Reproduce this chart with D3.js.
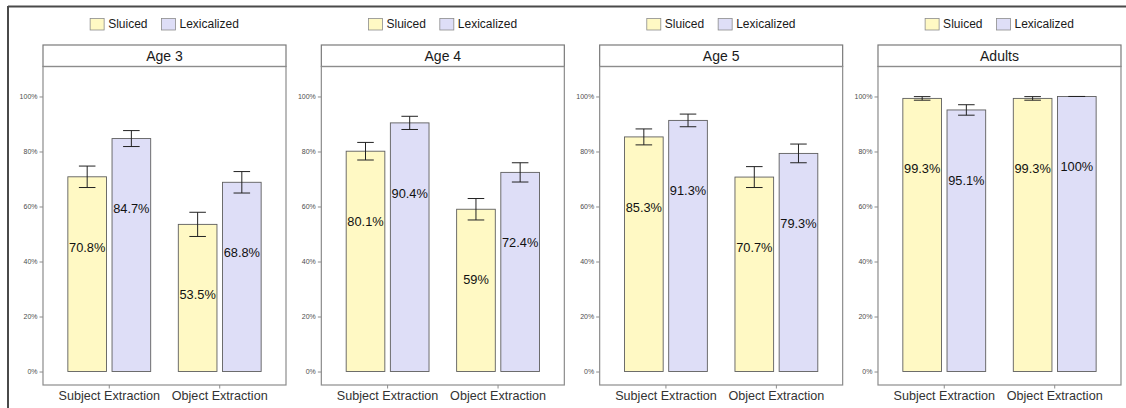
<!DOCTYPE html>
<html>
<head>
<meta charset="utf-8">
<script src="https://cdn.jsdelivr.net/npm/d3@7"></script>
<style>
  html, body { margin: 0; padding: 0; background: #fff; }
  svg { display: block; font-family: "Liberation Sans", Arial, Helvetica, sans-serif; }
</style>
</head>
<body>
<svg id="chart" width="1126" height="408"></svg>
<script>
// Facets, categories and conditions
const panels = ["Age 3", "Age 4", "Age 5", "Adults"];
const categories = ["Subject Extraction", "Object Extraction"];
const conditions = ["Sluiced", "Lexicalized"];

// Percent correct per facet: [Subject Extraction, Object Extraction]
const sluicedPct     = [[70.8, 53.5], [80.1, 59], [85.3, 70.7], [99.3, 99.3]];
const lexicalizedPct = [[84.7, 68.8], [90.4, 72.4], [91.3, 79.3], [95.1, 100]];

// Standard error (percentage points)
const sluicedErr     = [[3.9, 4.4], [3.2, 3.9], [2.9, 3.8], [0.65, 0.65]];
const lexicalizedErr = [[2.9, 3.9], [2.4, 3.5], [2.3, 3.4], [1.9, 0]];

const yTicks = [0, 0.2, 0.4, 0.6, 0.8, 1];
const fills = ["#fff9c4", "#dedef7"];

const svg = d3.select("#chart");

// Page frame (top and left rules)
svg.append("line").attr("x1", 8).attr("x2", 1126).attr("y1", 6.5).attr("y2", 6.5)
  .attr("stroke", "#4a4a4a").attr("stroke-width", 2);
svg.append("line").attr("x1", 8).attr("x2", 8).attr("y1", 6).attr("y2", 408)
  .attr("stroke", "#4a4a4a").attr("stroke-width", 2);

// Panel geometry
const panelX0 = 43, panelStep = 278.33, panelW = 243;
const stripTop = 45, stripBottom = 66.5, panelBottom = 385;

const x = d3.scaleBand().domain(categories).range([0, panelW]).paddingInner(0).paddingOuter(0.1);
const xc = d3.scaleBand().domain(conditions).range([0, x.bandwidth()]).paddingInner(0.125).paddingOuter(0.3125);
const y = d3.scaleLinear().domain([-0.049, 1.109]).range([panelBottom, stripBottom]);

const pctFmt = d3.format(".0%");

panels.forEach((name, pi) => {
  const g = svg.append("g").attr("transform", `translate(${panelX0 + pi * panelStep},0)`);

  // Legend above each facet
  const legend = g.append("g").attr("transform", `translate(${panelW / 2},24)`);
  const items = [];
  let cx = 0;
  const itemGap = 14;
  conditions.forEach((c, ci) => {
    const it = legend.append("g");
    it.append("rect").attr("x", 0).attr("y", -5.5).attr("width", 14).attr("height", 11.5)
      .attr("fill", fills[ci]).attr("stroke", "#8c8c8c").attr("stroke-width", 0.8);
    const t = it.append("text").attr("x", 18).attr("y", 0).attr("dy", "0.35em")
      .attr("font-size", 12).attr("fill", "#1a1a1a").text(c);
    const w = 18 + t.node().getComputedTextLength();
    items.push({ it, x: cx });
    cx += w + itemGap;
  });
  const totalW = cx - itemGap;
  items.forEach(d => d.it.attr("transform", `translate(${d.x - totalW / 2},0)`));

  // Strip
  g.append("rect").attr("x", 0).attr("y", stripTop).attr("width", panelW).attr("height", stripBottom - stripTop)
    .attr("fill", "#fff").attr("stroke", "#7a7a7a").attr("stroke-width", 1.2);
  g.append("text").attr("x", panelW / 2).attr("y", (stripTop + stripBottom) / 2).attr("dy", "0.35em")
    .attr("text-anchor", "middle").attr("font-size", 14).attr("fill", "#1a1a1a").text(name);

  // Y axis ticks
  const yAxis = d3.axisLeft(y).tickValues(yTicks).tickFormat(pctFmt).tickSize(3.5).tickPadding(2);
  const ya = g.append("g").call(yAxis);
  ya.select(".domain").remove();
  ya.selectAll(".tick line").attr("stroke", "#8c8c8c");
  ya.selectAll(".tick text").attr("font-size", 7).attr("fill", "#4d4d4d").attr("font-family", null);

  // X axis ticks
  const xAxis = d3.axisBottom(x).tickSize(3.5).tickPadding(3);
  const xa = g.append("g").attr("transform", `translate(0,${panelBottom})`).call(xAxis);
  xa.select(".domain").remove();
  xa.selectAll(".tick line").attr("stroke", "#8c8c8c");
  xa.selectAll(".tick text").attr("font-size", 12.6).attr("fill", "#333").attr("font-family", null);

  // Bars
  const rows = [];
  categories.forEach((cat, k) => {
    rows.push({ cat, cond: "Sluiced", ci: 0, v: sluicedPct[pi][k], e: sluicedErr[pi][k] });
    rows.push({ cat, cond: "Lexicalized", ci: 1, v: lexicalizedPct[pi][k], e: lexicalizedErr[pi][k] });
  });

  const bx = d => x(d.cat) + xc(d.cond);
  g.selectAll("rect.bar").data(rows).join("rect").attr("class", "bar")
    .attr("x", bx).attr("width", xc.bandwidth())
    .attr("y", d => y(d.v / 100)).attr("height", d => y(0) - y(d.v / 100))
    .attr("fill", d => fills[d.ci]).attr("stroke", "#5e5e5e").attr("stroke-width", 0.9);

  // Error bars
  const capW = x.bandwidth() * 0.15;
  const eb = g.selectAll("g.err").data(rows).join("g").attr("class", "err")
    .attr("transform", d => `translate(${bx(d) + xc.bandwidth() / 2},0)`);
  eb.append("line").attr("y1", d => y((d.v + d.e) / 100)).attr("y2", d => y((d.v - d.e) / 100))
    .attr("stroke", "#222").attr("stroke-width", 1);
  eb.append("line").attr("x1", -capW / 2).attr("x2", capW / 2)
    .attr("y1", d => y((d.v + d.e) / 100)).attr("y2", d => y((d.v + d.e) / 100))
    .attr("stroke", "#222").attr("stroke-width", 1);
  eb.append("line").attr("x1", -capW / 2).attr("x2", capW / 2)
    .attr("y1", d => y((d.v - d.e) / 100)).attr("y2", d => y((d.v - d.e) / 100))
    .attr("stroke", "#222").attr("stroke-width", 1);

  // Value labels
  g.selectAll("text.lbl").data(rows).join("text").attr("class", "lbl")
    .attr("x", d => bx(d) + xc.bandwidth() / 2)
    .attr("y", d => y(d.v / 100 - 0.256)).attr("dy", "0.35em")
    .attr("text-anchor", "middle").attr("font-size", 12.8).attr("fill", "#111")
    .text(d => `${d.v}%`);

  // Panel border
  g.append("rect").attr("x", 0).attr("y", stripBottom).attr("width", panelW).attr("height", panelBottom - stripBottom)
    .attr("fill", "none").attr("stroke", "#8c8c8c").attr("stroke-width", 1.2);
});
</script>
</body>
</html>
